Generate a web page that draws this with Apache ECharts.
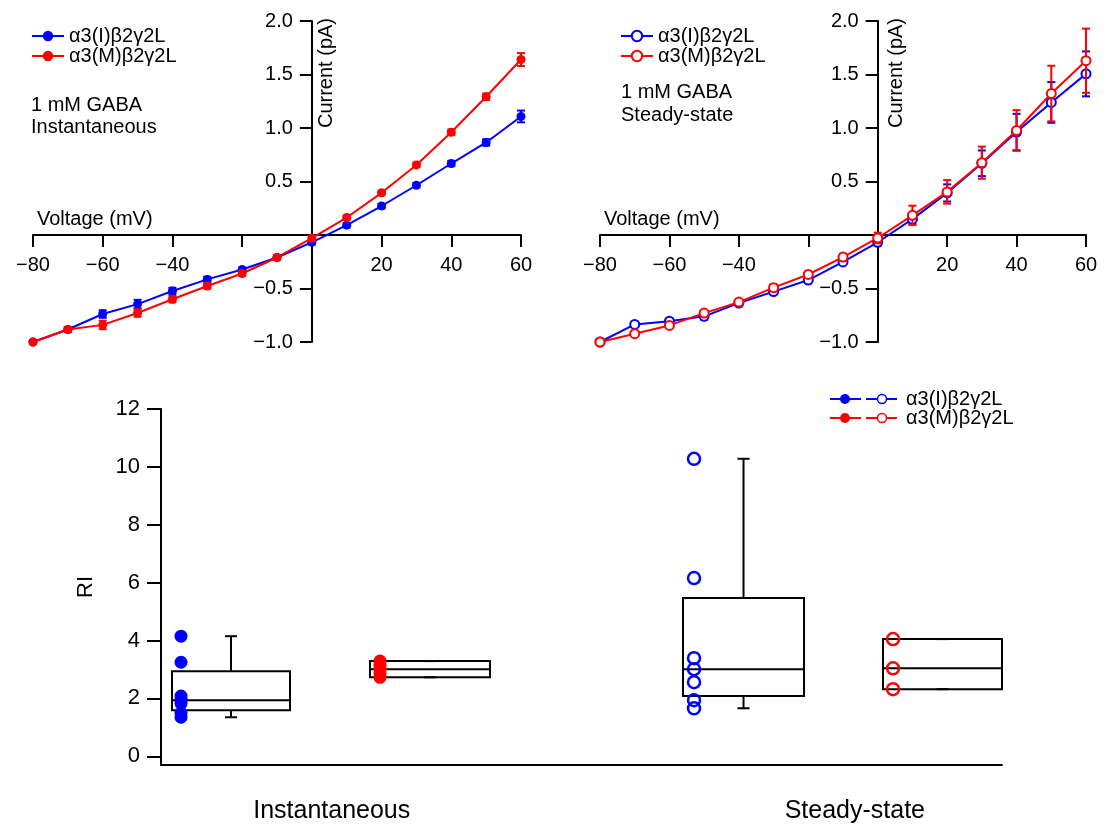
<!DOCTYPE html>
<html>
<head>
<meta charset="utf-8">
<script src="https://cdn.jsdelivr.net/npm/echarts@6/dist/echarts.min.js"></script>
<style>
html,body{margin:0;padding:0;background:#fff;}
#main{width:1108px;height:829px;}
</style>
</head>
<body>
<div id="main"></div>
<script>
// ---------------- DATA ----------------
const voltages = [-80, -70, -60, -50, -40, -30, -20, -10, 0, 10, 20, 30, 40, 50, 60];

const seriesNames = ['α3(I)β2γ2L', 'α3(M)β2γ2L'];

// Instantaneous (normalized current, pA)
const instI = [-1.0, -0.883, -0.738, -0.646, -0.523, -0.415, -0.323, -0.21, -0.068, 0.092, 0.271, 0.465, 0.668, 0.865, 1.108];
const instIErr = [0, 0.02, 0.035, 0.04, 0.03, 0.025, 0.02, 0.015, 0.02, 0.02, 0.02, 0.02, 0.025, 0.03, 0.055];
const instM = [-1.0, -0.883, -0.84, -0.729, -0.60, -0.477, -0.36, -0.21, -0.03, 0.163, 0.394, 0.655, 0.96, 1.292, 1.64];
const instMErr = [0, 0.02, 0.04, 0.035, 0.03, 0.025, 0.02, 0.02, 0.02, 0.02, 0.02, 0.02, 0.025, 0.03, 0.06];

// Steady-state
const steadyI = [-1.0, -0.836, -0.805, -0.76, -0.636, -0.529, -0.421, -0.252, -0.068, 0.148, 0.393, 0.67, 0.962, 1.239, 1.506];
const steadyIErr = [0, 0.02, 0.02, 0.03, 0.02, 0.02, 0.02, 0.02, 0.03, 0.045, 0.08, 0.12, 0.17, 0.19, 0.21];
const steadyM = [-1.0, -0.922, -0.845, -0.73, -0.627, -0.492, -0.369, -0.206, -0.028, 0.184, 0.403, 0.676, 0.977, 1.322, 1.629];
const steadyMErr = [0, 0.02, 0.02, 0.02, 0.02, 0.03, 0.02, 0.03, 0.05, 0.09, 0.11, 0.15, 0.19, 0.26, 0.30];

// Axis ticks / labels
const ivXRange = [-80, 60];
const ivYRange = [-1, 2];
const ivXTicks = [-80, -60, -40, -20, 20, 40, 60];
const ivXLabels = [-80, -60, -40, 20, 40, 60];
const ivYTicks = [-1.0, -0.5, 0.5, 1.0, 1.5, 2.0];
const riYTicks = [0, 2, 4, 6, 8, 10, 12];

// RI box plot data
const riGroups = ['Instantaneous', 'Steady-state'];
const riInstI = [4.15, 3.25, 2.08, 1.94, 1.83, 1.49, 1.35];
const riInstM = [3.29, 3.15, 3.01, 2.87, 2.73];
const riSteadyI = [10.28, 6.16, 3.39, 3.01, 2.56, 1.94, 1.66];
const riSteadyM = [4.05, 3.04, 2.32];
// [lower whisker, Q1, median, Q3, upper whisker]
const boxInstI = [1.35, 1.59, 1.94, 2.94, 4.15];
const boxInstM = [2.73, 2.73, 3.01, 3.29, 3.29];
const boxSteadyI = [1.66, 2.08, 3.01, 5.47, 10.28];
const boxSteadyM = [2.32, 2.32, 3.04, 4.05, 4.05];

// ---------------- LAYOUT ----------------
const gridIV = [
  { left: 33, top: 21, width: 488, height: 321 },
  { left: 600, top: 21, width: 486, height: 321 }
];
const gridRI = { left: 161, top: 409, width: 841, height: 356 };
// positions along bottom x scale 0..100
const boxSpan = [[1.31, 15.34], [24.85, 39.12], [62.07, 76.46], [85.85, 100]];
const pointX = [2.38, 26.04, 63.38, 87.04];
const groupLabelX = [20.3, 82.5];

const BLUE = '#0000ff', RED = '#ff0000', INK = '#000';
const FONT = '"Liberation Sans", Arial, Helvetica, sans-serif';

const pairs = (ys) => voltages.map((v, i) => [v, ys[i]]);
const errPairs = (ys, es) => voltages.map((v, i) => [v, ys[i], es[i]]);
const minus = (s) => String(s).replace('-', '\u2212');

function errRender(color) {
  return function (params, api) {
    const x = api.value(0), y = api.value(1), e = api.value(2);
    if (!e) return null;
    const t = api.coord([x, y + e]);
    const b = api.coord([x, y - e]);
    const st = { stroke: color, lineWidth: 2 };
    const c = 4;
    return {
      type: 'group',
      children: [
        { type: 'line', shape: { x1: t[0], y1: t[1], x2: b[0], y2: b[1] }, style: st },
        { type: 'line', shape: { x1: t[0] - c, y1: t[1], x2: t[0] + c, y2: t[1] }, style: st },
        { type: 'line', shape: { x1: b[0] - c, y1: b[1], x2: b[0] + c, y2: b[1] }, style: st }
      ]
    };
  };
}

// axes crossing at the origin: shift each axis from the grid edge to zero
function ivXAxis(gi) {
  const off = -gridIV[gi].height * (0 - ivYRange[0]) / (ivYRange[1] - ivYRange[0]);
  return {
    gridIndex: gi, type: 'value', min: ivXRange[0], max: ivXRange[1],
    position: 'bottom', offset: off,
    name: 'Voltage (mV)', nameLocation: 'start', nameGap: -4,
    nameTextStyle: { fontSize: 20, fontFamily: FONT, color: INK, align: 'left', verticalAlign: 'bottom', padding: [0, 0, 6, 0] },
    axisLine: { onZero: false, lineStyle: { color: INK, width: 2 } },
    axisTick: { customValues: ivXTicks, length: 12, lineStyle: { color: INK, width: 2 } },
    axisLabel: { customValues: ivXLabels, margin: 20, fontSize: 20, fontFamily: FONT, color: INK, formatter: (v) => minus(v) },
    splitLine: { show: false }
  };
}
function ivYAxis(gi) {
  const off = -gridIV[gi].width * (0 - ivXRange[0]) / (ivXRange[1] - ivXRange[0]);
  return {
    gridIndex: gi, type: 'value', min: ivYRange[0], max: ivYRange[1],
    position: 'left', offset: off,
    name: 'Current (pA)', nameLocation: 'end', nameGap: 3, nameRotate: 90,
    nameTextStyle: { fontSize: 20, fontFamily: FONT, color: INK, align: 'right', verticalAlign: 'top', padding: [gi === 0 ? 5 : 9, 0, 0, 0] },
    axisLine: { onZero: false, lineStyle: { color: INK, width: 2 } },
    axisTick: { customValues: ivYTicks, length: 12, lineStyle: { color: INK, width: 2 } },
    axisLabel: { customValues: ivYTicks, margin: 19, fontSize: 20, fontFamily: FONT, color: INK, formatter: (v) => minus(v.toFixed(1)) },
    splitLine: { show: false }
  };
}

function lineSeries(name, gi, ys, color, hollow) {
  return {
    type: 'line', name: name, xAxisIndex: gi, yAxisIndex: gi,
    data: pairs(ys),
    symbol: hollow ? 'emptyCircle' : 'circle', symbolSize: 9,
    lineStyle: { color: color, width: 2 },
    itemStyle: hollow ? { color: color, borderColor: color, borderWidth: 1.5 } : { color: color },
    z: color === RED ? 4 : 3, animation: false
  };
}
function errSeries(gi, ys, es, color) {
  return {
    type: 'custom', xAxisIndex: gi, yAxisIndex: gi,
    data: errPairs(ys, es), renderItem: errRender(color),
    z: color === RED ? 4 : 3, animation: false, silent: true
  };
}

// box plot items: [x0, x1, lo, q1, med, q3, hi]
const boxStats = [boxInstI, boxInstM, boxSteadyI, boxSteadyM];
const boxData = boxStats.map((s, i) => [boxSpan[i][0], boxSpan[i][1]].concat(s));

function boxRender(params, api) {
  const x0 = api.value(0), x1 = api.value(1);
  const lo = api.value(2), q1 = api.value(3), med = api.value(4), q3 = api.value(5), hi = api.value(6);
  const xc = (x0 + x1) / 2;
  const pTL = api.coord([x0, q3]), pBR = api.coord([x1, q1]);
  const pM0 = api.coord([x0, med]), pM1 = api.coord([x1, med]);
  const pHi = api.coord([xc, hi]), pQ3 = api.coord([xc, q3]);
  const pLo = api.coord([xc, lo]), pQ1 = api.coord([xc, q1]);
  const st = { stroke: INK, lineWidth: 2, fill: null };
  const c = 6;
  return {
    type: 'group',
    children: [
      { type: 'rect', shape: { x: pTL[0], y: pTL[1], width: pBR[0] - pTL[0], height: pBR[1] - pTL[1] }, style: { stroke: INK, lineWidth: 2, fill: 'rgba(0,0,0,0)' } },
      { type: 'line', shape: { x1: pM0[0], y1: pM0[1], x2: pM1[0], y2: pM1[1] }, style: st },
      { type: 'line', shape: { x1: pHi[0], y1: pHi[1], x2: pQ3[0], y2: pQ3[1] }, style: st },
      { type: 'line', shape: { x1: pHi[0] - c, y1: pHi[1], x2: pHi[0] + c, y2: pHi[1] }, style: st },
      { type: 'line', shape: { x1: pLo[0], y1: pLo[1], x2: pQ1[0], y2: pQ1[1] }, style: st },
      { type: 'line', shape: { x1: pLo[0] - c, y1: pLo[1], x2: pLo[0] + c, y2: pLo[1] }, style: st }
    ]
  };
}

function riScatter(vals, xi, color, hollow) {
  return {
    type: 'scatter', xAxisIndex: 2, yAxisIndex: 2,
    data: vals.map(v => [pointX[xi], v]),
    symbol: 'circle', symbolSize: hollow ? 12 : 13,
    itemStyle: hollow
      ? { color: 'rgba(255,255,255,0)', borderColor: color, borderWidth: 2.5, opacity: 1 }
      : { color: color, opacity: 1 },
    z: 5, animation: false
  };
}

// legend graphics (bottom panel)
function legendRow(y, color, text) {
  const st = { stroke: color, lineWidth: 2 };
  return [
    { type: 'line', shape: { x1: 830, y1: y, x2: 861, y2: y }, style: st },
    { type: 'circle', shape: { cx: 845, cy: y, r: 5 }, style: { fill: color } },
    { type: 'line', shape: { x1: 866, y1: y, x2: 897, y2: y }, style: st },
    { type: 'circle', shape: { cx: 882, cy: y, r: 4.5 }, style: { fill: '#fff', stroke: color, lineWidth: 1.5 } },
    { type: 'text', x: 906, y: y, style: { text: text, font: '20px ' + FONT, fill: INK, verticalAlign: 'middle' } }
  ];
}
function note(x, y, text) {
  return { type: 'text', x: x, y: y, style: { text: text, font: '20px ' + FONT, fill: INK, verticalAlign: 'middle' } };
}

const chart = echarts.init(document.getElementById('main'), null, { renderer: 'canvas' });

const legendText = { fontSize: 20, fontFamily: FONT, color: INK, lineHeight: 18 };
const option = {
  backgroundColor: '#fff',
  animation: false,
  textStyle: { fontFamily: FONT },
  grid: [
    Object.assign({ outerBoundsMode: 'none', containLabel: false }, gridIV[0]),
    Object.assign({ outerBoundsMode: 'none', containLabel: false }, gridIV[1]),
    Object.assign({ outerBoundsMode: 'none', containLabel: false }, gridRI)
  ],
  legend: [
    {
      data: seriesNames.map(n => n + '#inst'), formatter: (n) => n.split('#')[0],
      orient: 'vertical', left: 26, top: 21, itemWidth: 32, itemHeight: 13, itemGap: 0,
      textStyle: legendText, selectedMode: false
    },
    {
      data: seriesNames.map(n => n + '#steady'), formatter: (n) => n.split('#')[0],
      orient: 'vertical', left: 615, top: 21, itemWidth: 32, itemHeight: 13, itemGap: 0,
      textStyle: legendText, selectedMode: false
    }
  ],
  xAxis: [
    ivXAxis(0),
    ivXAxis(1),
    {
      gridIndex: 2, type: 'value', min: 0, max: 100,
      axisLine: { onZero: false, lineStyle: { color: INK, width: 2 } },
      axisTick: { show: false },
      axisLabel: {
        customValues: groupLabelX, margin: 34, fontSize: 25, fontFamily: FONT, color: INK,
        formatter: (v) => {
          let best = 0;
          groupLabelX.forEach((g, i) => { if (Math.abs(g - v) < Math.abs(groupLabelX[best] - v)) best = i; });
          return riGroups[best];
        }
      },
      splitLine: { show: false }
    }
  ],
  yAxis: [
    ivYAxis(0),
    ivYAxis(1),
    {
      gridIndex: 2, type: 'value', min: -0.3, max: 12,
      name: 'RI', nameLocation: 'middle', nameGap: 64, nameRotate: 90,
      nameTextStyle: { fontSize: 22, fontFamily: FONT, color: INK },
      axisLine: { onZero: false, lineStyle: { color: INK, width: 2 } },
      axisTick: { customValues: riYTicks, length: 14, lineStyle: { color: INK, width: 2 } },
      axisLabel: { customValues: riYTicks, margin: 21, fontSize: 22, fontFamily: FONT, color: INK },
      splitLine: { show: false }
    }
  ],
  series: [
    errSeries(0, instI, instIErr, BLUE),
    lineSeries(seriesNames[0] + '#inst', 0, instI, BLUE, false),
    errSeries(0, instM, instMErr, RED),
    lineSeries(seriesNames[1] + '#inst', 0, instM, RED, false),

    errSeries(1, steadyI, steadyIErr, BLUE),
    lineSeries(seriesNames[0] + '#steady', 1, steadyI, BLUE, true),
    errSeries(1, steadyM, steadyMErr, RED),
    lineSeries(seriesNames[1] + '#steady', 1, steadyM, RED, true),

    { type: 'custom', xAxisIndex: 2, yAxisIndex: 2, data: boxData, renderItem: boxRender, z: 2, animation: false, silent: true },
    riScatter(riInstI, 0, BLUE, false),
    riScatter(riInstM, 1, RED, false),
    riScatter(riSteadyI, 2, BLUE, true),
    riScatter(riSteadyM, 3, RED, true)
  ],
  graphic: [
    note(31, 105, '1 mM GABA'),
    note(31, 127, 'Instantaneous'),
    note(621, 92, '1 mM GABA'),
    note(621, 115, 'Steady-state')
  ].concat(legendRow(399, BLUE, seriesNames[0]), legendRow(418, RED, seriesNames[1]))
};

chart.setOption(option);
</script>
</body>
</html>
